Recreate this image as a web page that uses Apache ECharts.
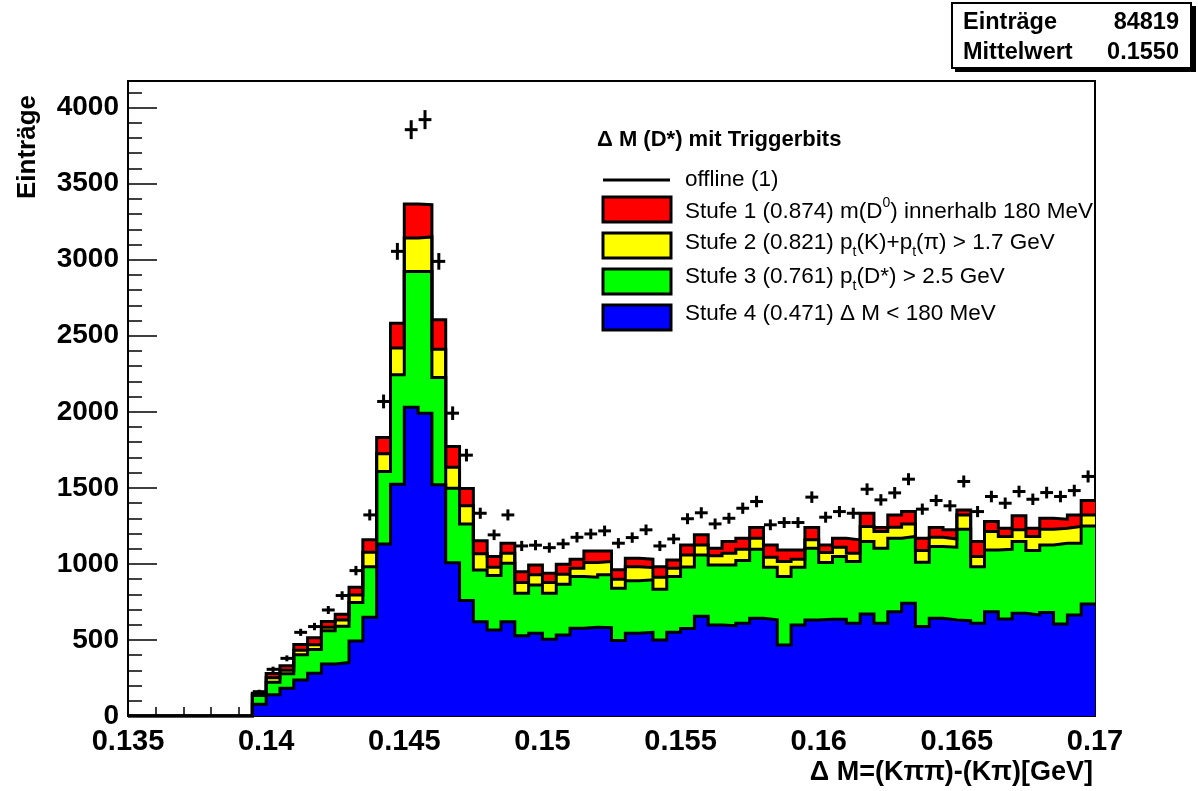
<!DOCTYPE html>
<html><head><meta charset="utf-8">
<script src="https://cdn.jsdelivr.net/npm/echarts@6/dist/echarts.min.js"></script>
<style>html,body{margin:0;padding:0;background:#fff}#c{width:1198px;height:791px}</style>
</head><body><div id="c"></div>
<script>
// bin edges of the histogram (GeV)
const binEdges = [0.135,0.1355,0.136,0.1365,0.137,0.1375,0.138,0.1385,0.139,0.1395,
  0.14,0.1405,0.141,0.1415,0.142,0.1425,0.143,0.1435,0.144,0.1445,
  0.145,0.1455,0.146,0.1465,0.147,0.1475,0.148,0.1485,0.149,0.1495,
  0.15,0.1505,0.151,0.1515,0.152,0.1525,0.153,0.1535,0.154,0.1545,
  0.155,0.1555,0.156,0.1565,0.157,0.1575,0.158,0.1585,0.159,0.1595,
  0.16,0.1605,0.161,0.1615,0.162,0.1625,0.163,0.1635,0.164,0.1645,
  0.165,0.1655,0.166,0.1665,0.167,0.1675,0.168,0.1685,0.169,0.1695,0.17];

const stufe1 = [0,0,0,0,0,0,0,0,0,
  150,280,330,470,515,621,669,846,1158,1831,2583,3366,3362,2605,1772,1495,1152,1048,1136,949,993,939,998,1031,1085,1085,961,1037,1031,982,1026,1125,1191,1103,1147,1169,1239,1125,1092,1092,1239,1125,1169,1158,1333,1239,1322,1344,1169,1239,1224,1355,1147,1279,1235,1316,1235,1300,1294,1322,1417];
const stufe2 = [0,0,0,0,0,0,0,0,0,
  144,252,300,432,468,583,632,796,1077,1724,2419,3142,3150,2412,1636,1382,1066,978,1070,877,928,877,932,972,1009,1015,899,982,976,912,971,1059,1125,1053,1070,1096,1169,1044,1015,1031,1158,1075,1110,1070,1246,1213,1241,1263,1088,1175,1164,1322,1048,1213,1180,1224,1180,1228,1235,1246,1322];
const stufe3 = [0,0,0,0,0,0,0,0,0,
  134,222,278,403,438,560,590,746,982,1607,2243,2923,2923,2226,1498,1263,960,923,1004,807,862,807,866,917,912,928,840,890,895,833,917,980,1059,993,993,1022,1096,978,917,978,1103,1009,1048,1015,1147,1103,1169,1180,1011,1114,1110,1228,982,1092,1096,1147,1088,1125,1136,1136,1250];
const stufe4 = [0,0,0,0,0,0,0,0,0,
  78,140,182,237,281,342,351,493,649,1131,1524,2030,1990,1520,1007,760,620,566,620,528,544,504,533,577,583,580,496,544,550,500,550,575,656,599,594,610,643,632,467,599,632,636,636,610,671,610,686,741,588,643,632,627,610,686,638,675,664,680,605,664,737];
const offline = [0,0,0,0,0,0,0,0,0,
  160,307,379,550,588,697,792,956,1322,2068,3055,3855,3921,2989,1991,1715,1333,1191,1322,1118,1123,1107,1132,1175,1197,1217,1136,1173,1224,1118,1164,1297,1336,1263,1300,1366,1410,1257,1272,1272,1439,1307,1344,1333,1491,1421,1467,1557,1360,1417,1382,1542,1344,1443,1399,1476,1425,1469,1443,1482,1575];

const yTicks = [0,500,1000,1500,2000,2500,3000,3500,4000];
const xTicks = [0.135,0.14,0.145,0.15,0.155,0.16,0.165,0.17];

const FONT = '"Liberation Sans", Arial, Helvetica, sans-serif';

function stepData(vals){
  const d = vals.map((v,i)=>[binEdges[i], v]);
  d.push([binEdges[vals.length], vals[vals.length-1]]);
  return d;
}
function histSeries(name, vals, color){
  return {
    name, type:'line', step:'end', data: stepData(vals),
    showSymbol:false, symbol:'none', silent:true,
    lineStyle:{color:'#000', width:3, join:'miter'},
    areaStyle:{color:color, opacity:1},
    z:2
  };
}
const offData = [];
offline.forEach((v,i)=>{ if(v>0) offData.push([binEdges[i], binEdges[i+1], v]); });

const chart = echarts.init(document.getElementById('c'), null, {renderer:'canvas'});
const legendRows = [
  {c:'#ff0000', y:197, ty:212, t:'Stufe 1 (0.874) m(D{sup|0}) innerhalb 180 MeV'},
  {c:'#ffff00', y:233, ty:243, t:'Stufe 2 (0.821) p{sub|t}(K)+p{sub|t}(π) > 1.7 GeV'},
  {c:'#00ff00', y:269, ty:277, t:'Stufe 3 (0.761) p{sub|t}(D*) > 2.5 GeV'},
  {c:'#0000ff', y:305, ty:314, t:'Stufe 4 (0.471) Δ M < 180 MeV'}
];
const rich = {
  sup:{fontSize:14, fontFamily:FONT, verticalAlign:'top', lineHeight:14},
  sub:{fontSize:14, fontFamily:FONT, verticalAlign:'bottom', lineHeight:14}
};
const graphics = [];
// legend
graphics.push({type:'text', x:597, y:140, style:{text:'Δ M (D*) mit Triggerbits', font:'bold 22px '+FONT, fill:'#000', verticalAlign:'middle'}, z:10});
graphics.push({type:'line', shape:{x1:603,y1:180,x2:670,y2:180}, style:{stroke:'#000', lineWidth:3}, z:10});
graphics.push({type:'text', x:685, y:180, style:{text:'offline (1)', font:'22.5px '+FONT, fill:'#000', verticalAlign:'middle'}, z:10});
legendRows.forEach(r=>{
  graphics.push({type:'rect', shape:{x:603,y:r.y,width:68,height:25}, style:{fill:r.c, stroke:'#000', lineWidth:3}, z:10});
  graphics.push({type:'text', x:685, y:r.ty, style:{text:r.t, font:'22.5px '+FONT, fontSize:22.5, fontFamily:FONT, fill:'#000', verticalAlign:'middle', lineHeight:32, rich:rich}, z:10});
});
// stats box
graphics.push({type:'rect', shape:{x:955,y:6,width:241,height:66}, style:{fill:'#000'}, z:10});
graphics.push({type:'rect', shape:{x:952,y:3,width:239,height:65}, style:{fill:'#fff', stroke:'#000', lineWidth:2}, z:11});
graphics.push({type:'text', x:963, y:23, style:{text:'Einträge', font:'bold 23.5px '+FONT, fill:'#000', verticalAlign:'middle'}, z:12});
graphics.push({type:'text', x:1179, y:23, style:{text:'84819', font:'bold 23.5px '+FONT, fill:'#000', align:'right', verticalAlign:'middle'}, z:12});
graphics.push({type:'text', x:963, y:53, style:{text:'Mittelwert', font:'bold 23.5px '+FONT, fill:'#000', verticalAlign:'middle'}, z:12});
graphics.push({type:'text', x:1179, y:53, style:{text:'0.1550', font:'bold 23.5px '+FONT, fill:'#000', align:'right', verticalAlign:'middle'}, z:12});
// axis titles
graphics.push({type:'text', x:1093, y:773, style:{text:'Δ M=(Kππ)-(Kπ)[GeV]', font:'bold 27px '+FONT, fill:'#000', align:'right', verticalAlign:'middle'}, z:10});
graphics.push({type:'text', x:28, y:95, rotation:Math.PI/2, style:{text:'Einträge', font:'bold 26px '+FONT, fill:'#000', align:'right', verticalAlign:'middle'}, z:10});

chart.setOption({
  animation:false,
  backgroundColor:'#fff',
  grid:{left:128, right:103, top:81, bottom:75, show:true, borderColor:'#000', borderWidth:2, backgroundColor:'transparent'},
  xAxis:{
    type:'value', min:xTicks[0], max:xTicks[xTicks.length-1], interval:0.005,
    axisLine:{show:true, onZero:false, lineStyle:{color:'#000', width:2}},
    axisTick:{show:true, inside:true, length:18, lineStyle:{color:'#000', width:1.5}},
    minorTick:{show:true, splitNumber:5, length:9, lineStyle:{color:'#000', width:1.5}},
    splitLine:{show:false},
    axisLabel:{show:true, color:'#000', fontFamily:FONT, fontWeight:'bold', fontSize:29, margin:11,
      showMinLabel:true, showMaxLabel:true,
      formatter:v=>{ const r = Math.round(v*1000)/1000; return xTicks.some(t=>Math.abs(t-r)<1e-9)? String(r):''; }}
  },
  yAxis:{
    type:'value', min:0, max:4175, interval:500,
    axisLine:{show:true, lineStyle:{color:'#000', width:2}},
    axisTick:{show:true, inside:true, length:29, lineStyle:{color:'#000', width:1.5}},
    minorTick:{show:true, splitNumber:5, length:14, lineStyle:{color:'#000', width:1.5}},
    splitLine:{show:false},
    axisLabel:{show:true, color:'#000', fontFamily:FONT, fontWeight:'bold', fontSize:28, margin:9,
      formatter:v=> yTicks.indexOf(Math.round(v))>=0 && Math.abs(v-Math.round(v))<1e-6 ? String(Math.round(v)) : ''}
  },
  series:[
    histSeries('Stufe 1', stufe1, '#ff0000'),
    histSeries('Stufe 2', stufe2, '#ffff00'),
    histSeries('Stufe 3', stufe3, '#00ff00'),
    histSeries('Stufe 4', stufe4, '#0000ff'),
    {
      name:'offline', type:'custom', silent:true, z:3,
      data: offData,
      encode:{x:[0,1], y:2},
      renderItem:function(params, api){
        const lo = api.value(0), hi = api.value(1), v = api.value(2);
        const e = Math.sqrt(v);
        const a = api.coord([lo, v]), b = api.coord([hi, v]);
        const t = api.coord([(lo+hi)/2, v+e]), u = api.coord([(lo+hi)/2, v-e]);
        return {type:'group', children:[
          {type:'line', shape:{x1:a[0]+0.5,y1:a[1],x2:b[0]-0.5,y2:b[1]}, style:{stroke:'#000', lineWidth:3}},
          {type:'line', shape:{x1:t[0],y1:t[1],x2:u[0],y2:u[1]}, style:{stroke:'#000', lineWidth:3}}
        ]};
      }
    }
  ],
  graphic: graphics
});
</script>
</body></html>
